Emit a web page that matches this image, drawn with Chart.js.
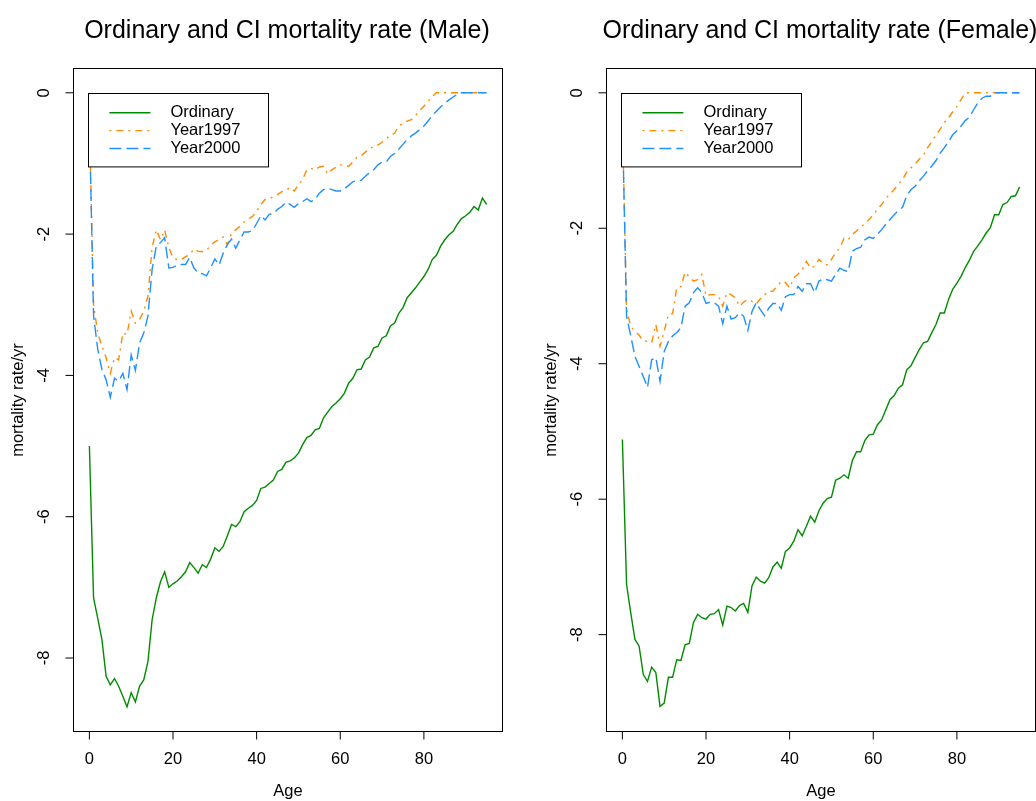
<!DOCTYPE html>
<html><head><meta charset="utf-8">
<script src="https://cdn.jsdelivr.net/npm/chart.js@4.4.1/dist/chart.umd.min.js"></script>
<style>
html,body{margin:0;padding:0;background:#fff;}
#wrap{position:relative;width:1036px;height:801px;overflow:hidden;background:#fff;}
canvas{position:absolute;top:0;}
</style></head><body>
<div id="wrap">
<canvas id="male" width="518" height="801" style="left:0px"></canvas>
<canvas id="female" width="518" height="801" style="left:518px"></canvas>
</div>
<script>
// ---------------- data ----------------
const ages = [0,1,2,3,4,5,6,7,8,9,10,11,12,13,14,15,16,17,18,19,20,21,22,23,24,25,26,27,28,29,30,31,32,33,34,35,36,37,38,39,40,41,42,43,44,45,46,47,48,49,50,51,52,53,54,55,56,57,58,59,60,61,62,63,64,65,66,67,68,69,70,71,72,73,74,75,76,77,78,79,80,81,82,83,84,85,86,87,88,89,90,91,92,93,94,95];

const maleOrdinary = [-5.00,-7.15,-7.44,-7.74,-8.26,-8.38,-8.29,-8.40,-8.54,-8.69,-8.49,-8.62,-8.40,-8.31,-8.05,-7.46,-7.15,-6.92,-6.78,-7.00,
-6.95,-6.91,-6.85,-6.78,-6.65,-6.72,-6.80,-6.68,-6.72,-6.60,-6.44,-6.49,-6.42,-6.27,-6.11,-6.14,-6.07,-5.93,-5.88,-5.84,
-5.77,-5.60,-5.58,-5.53,-5.48,-5.36,-5.33,-5.23,-5.21,-5.17,-5.10,-4.98,-4.88,-4.85,-4.77,-4.75,-4.60,-4.52,-4.44,-4.39,
-4.33,-4.25,-4.11,-4.04,-3.92,-3.91,-3.78,-3.74,-3.61,-3.59,-3.47,-3.44,-3.30,-3.26,-3.12,-3.04,-2.90,-2.83,-2.76,-2.68,
-2.60,-2.50,-2.36,-2.30,-2.17,-2.08,-2.01,-1.96,-1.86,-1.78,-1.74,-1.69,-1.61,-1.66,-1.49,-1.58];

const maleYear1997 = [-0.40,-3.00,-3.40,-3.59,-3.75,-3.97,-3.75,-3.78,-3.40,-3.42,-3.09,-3.26,-3.21,-3.09,-2.88,-2.19,-1.94,-2.08,-1.94,-2.19,
-2.34,-2.36,-2.36,-2.32,-2.29,-2.21,-2.24,-2.25,-2.23,-2.16,-2.11,-2.08,-2.04,-2.15,-1.99,-1.94,-1.89,-1.83,-1.79,-1.75,
-1.68,-1.58,-1.51,-1.50,-1.47,-1.44,-1.40,-1.38,-1.34,-1.39,-1.30,-1.23,-1.09,-1.07,-1.09,-1.05,-1.04,-1.15,-1.09,-1.05,
-1.02,-1.03,-1.04,-0.98,-0.91,-0.89,-0.84,-0.79,-0.76,-0.74,-0.70,-0.65,-0.60,-0.57,-0.47,-0.43,-0.40,-0.38,-0.32,-0.25,
-0.19,-0.12,-0.05,0,0,0,0,0,0,0,0,0,0,0,0,0];

const maleYear2000 = [-0.40,-3.16,-3.63,-3.92,-4.06,-4.31,-4.04,-4.08,-3.97,-4.20,-3.71,-3.93,-3.54,-3.40,-3.16,-2.50,-2.17,-2.12,-2.05,-2.48,
-2.47,-2.44,-2.43,-2.43,-2.33,-2.48,-2.55,-2.56,-2.59,-2.48,-2.35,-2.44,-2.27,-2.15,-2.07,-2.20,-2.08,-1.97,-1.97,-1.95,
-1.85,-1.74,-1.80,-1.72,-1.71,-1.65,-1.61,-1.55,-1.58,-1.62,-1.57,-1.54,-1.50,-1.54,-1.51,-1.42,-1.37,-1.35,-1.37,-1.39,
-1.39,-1.36,-1.31,-1.26,-1.24,-1.24,-1.18,-1.13,-1.09,-1.02,-0.98,-0.98,-0.90,-0.86,-0.80,-0.73,-0.66,-0.61,-0.57,-0.52,
-0.47,-0.40,-0.32,-0.26,-0.20,-0.15,-0.10,-0.06,-0.02,0,0,0,0,0,0,0];

const femaleOrdinary = [-5.12,-7.26,-7.68,-8.07,-8.17,-8.59,-8.69,-8.48,-8.56,-9.06,-9.01,-8.63,-8.63,-8.37,-8.38,-8.15,-8.13,-7.82,-7.70,-7.75,
-7.77,-7.70,-7.69,-7.63,-7.86,-7.58,-7.60,-7.65,-7.57,-7.54,-7.67,-7.28,-7.15,-7.21,-7.24,-7.16,-7.00,-6.93,-7.02,-6.77,
-6.72,-6.62,-6.45,-6.54,-6.40,-6.25,-6.34,-6.17,-6.06,-5.99,-5.97,-5.72,-5.69,-5.64,-5.69,-5.43,-5.30,-5.30,-5.13,-5.05,
-5.04,-4.90,-4.83,-4.68,-4.53,-4.47,-4.36,-4.31,-4.09,-4.03,-3.91,-3.79,-3.69,-3.67,-3.54,-3.42,-3.25,-3.25,-3.05,-2.90,
-2.81,-2.71,-2.58,-2.47,-2.34,-2.26,-2.17,-2.07,-1.99,-1.80,-1.80,-1.65,-1.62,-1.53,-1.52,-1.39];

const femaleYear1997 = [-0.40,-3.20,-3.45,-3.52,-3.58,-3.66,-3.67,-3.69,-3.42,-3.74,-3.52,-3.27,-3.26,-2.88,-2.86,-2.65,-2.72,-2.78,-2.76,-2.68,
-3.00,-2.98,-2.98,-3.00,-3.15,-2.95,-2.98,-3.03,-3.15,-3.09,-3.05,-3.08,-3.12,-3.04,-2.98,-2.93,-2.93,-2.86,-2.78,-2.80,
-2.88,-2.73,-2.68,-2.61,-2.49,-2.59,-2.56,-2.46,-2.52,-2.54,-2.46,-2.36,-2.29,-2.15,-2.17,-2.09,-2.04,-1.98,-1.93,-1.87,
-1.80,-1.72,-1.65,-1.56,-1.49,-1.43,-1.35,-1.28,-1.17,-1.11,-1.05,-0.98,-0.92,-0.81,-0.72,-0.62,-0.54,-0.44,-0.37,-0.28,
-0.20,-0.10,0,0,0,0,0,0,0,0,0,0,0,0,0,0];

const femaleYear2000 = [-0.40,-3.30,-3.59,-3.89,-4.04,-4.19,-4.35,-3.94,-3.91,-4.26,-3.82,-3.67,-3.59,-3.54,-3.47,-3.15,-3.10,-2.95,-2.88,-2.95,
-3.11,-3.09,-3.10,-3.15,-3.41,-3.15,-3.34,-3.32,-3.25,-3.30,-3.51,-3.23,-3.10,-3.20,-3.29,-3.18,-3.11,-3.11,-3.21,-3.01,
-2.98,-2.98,-2.86,-2.93,-2.82,-2.82,-2.95,-2.78,-2.75,-2.76,-2.78,-2.68,-2.59,-2.62,-2.64,-2.34,-2.30,-2.28,-2.17,-2.13,
-2.15,-2.09,-2.02,-1.94,-1.87,-1.80,-1.74,-1.69,-1.52,-1.43,-1.38,-1.30,-1.23,-1.15,-1.08,-1.00,-0.89,-0.81,-0.72,-0.62,
-0.56,-0.49,-0.41,-0.36,-0.25,-0.15,-0.08,-0.05,-0.05,0,0,0,0,0,0,0];

const seriesNames = ['Ordinary','Year1997','Year2000'];
const seriesColors = ['#008B00','#FF8C00','#1E90FF'];
const xTicks = [0,20,40,60,80];
const yTicks = [0,-2,-4,-6,-8];
const xLimits = [-3.8, 98.8];
const maleYLimits = [-9.04, 0.344];
const femaleYLimits = [-9.43, 0.359];
const titles = ['Ordinary and CI mortality rate (Male)','Ordinary and CI mortality rate (Female)'];
const xTitle = 'Age';
const yTitle = 'mortality rate/yr';

// ---------------- drawing ----------------
const FONT = s => s + 'px "Liberation Sans", Arial, Helvetica, sans-serif';

const rPlot = {
  id: 'rplot',
  afterDatasetsDraw(chart, args, o) {
    const {ctx, scales:{x, y}} = chart;
    const L = x.getPixelForValue(0), T = y.getPixelForValue(0);
    const W = 180, H = 73.4;
    const bx = Math.round(L) - 0.5, by = Math.round(T) + 0.5;
    ctx.save();
    ctx.fillStyle = '#fff';
    ctx.fillRect(bx, by, W, H);
    ctx.strokeStyle = '#000'; ctx.lineWidth = 1;
    ctx.strokeRect(bx, by, W, H);
    ctx.font = FONT(16.5); ctx.textBaseline = 'middle'; ctx.textAlign = 'left';
    chart.data.datasets.forEach((ds, i) => {
      const ry = T + 20 + i * 17.85;
      ctx.strokeStyle = ds.borderColor; ctx.lineWidth = ds.borderWidth;
      ctx.setLineDash(ds.borderDash || []);
      ctx.beginPath(); ctx.moveTo(L + 20, ry); ctx.lineTo(L + 61, ry); ctx.stroke();
      ctx.setLineDash([]);
      ctx.fillStyle = '#000';
      ctx.fillText(ds.label, L + 81, ry);
    });
    ctx.restore();
  },
  afterDraw(chart, args, o) {
    const {ctx, chartArea: a, scales:{x, y}} = chart;
    ctx.save();
    ctx.strokeStyle = '#000'; ctx.lineWidth = 1;
    ctx.strokeRect(a.left, a.top, a.right - a.left, a.bottom - a.top);
    const ypx = yTicks.map(v => y.getPixelForValue(v));
    const xpx = xTicks.map(v => x.getPixelForValue(v));
    ctx.beginPath();
    ctx.moveTo(a.left, Math.min(...ypx)); ctx.lineTo(a.left, Math.max(...ypx));
    ypx.forEach(p => { ctx.moveTo(a.left - 8, p); ctx.lineTo(a.left, p); });
    ctx.moveTo(Math.min(...xpx), a.bottom); ctx.lineTo(Math.max(...xpx), a.bottom);
    xpx.forEach(p => { ctx.moveTo(p, a.bottom); ctx.lineTo(p, a.bottom + 8); });
    ctx.stroke();
    ctx.fillStyle = '#000'; ctx.font = FONT(16.5);
    ctx.textAlign = 'center'; ctx.textBaseline = 'middle';
    xTicks.forEach((v, i) => ctx.fillText(String(v), xpx[i], a.bottom + 28));
    ctx.fillText(xTitle, (a.left + a.right) / 2, a.bottom + 60);
    yTicks.forEach((v, i) => {
      ctx.save(); ctx.translate(a.left - 29, ypx[i]); ctx.rotate(-Math.PI / 2);
      ctx.fillText(String(v), 0, 0); ctx.restore();
    });
    ctx.save(); ctx.translate(a.left - 55, (a.top + a.bottom) / 2); ctx.rotate(-Math.PI / 2);
    ctx.fillText(yTitle, 0, 0); ctx.restore();
    ctx.font = FONT(25);
    ctx.fillText(o.title, (a.left + a.right) / 2 - 1, 31);
    ctx.restore();
  }
};

function makeChart(id, series, yLim, title, pad) {
  const dashes = [[], [2, 5, 7, 5], [12, 5]];
  const orders = [2, 1, 0];
  const datasets = series.map((vals, i) => ({
    label: seriesNames[i],
    data: ages.map((a, k) => ({x: a, y: vals[k]})),
    borderColor: seriesColors[i],
    borderWidth: 1.4,
    borderDash: dashes[i],
    pointRadius: 0,
    tension: 0,
    fill: false,
    order: orders[i]
  }));
  return new Chart(document.getElementById(id), {
    type: 'line',
    data: {datasets},
    options: {
      responsive: false,
      animation: false,
      events: [],
      devicePixelRatio: 1,
      layout: {padding: pad},
      scales: {
        x: {type: 'linear', min: xLimits[0], max: xLimits[1], display: false},
        y: {type: 'linear', min: yLim[0], max: yLim[1], display: false}
      },
      plugins: {
        legend: {display: false},
        title: {display: false},
        tooltip: {enabled: false},
        rplot: {title}
      }
    },
    plugins: [rPlot]
  });
}

makeChart('male', [maleOrdinary, maleYear1997, maleYear2000], maleYLimits, titles[0],
  {left: 73.5, right: 15.5, top: 68.5, bottom: 69.5});
makeChart('female', [femaleOrdinary, femaleYear1997, femaleYear2000], femaleYLimits, titles[1],
  {left: 88.5, right: 0.5, top: 68.5, bottom: 69.5});
</script>
</body></html>
